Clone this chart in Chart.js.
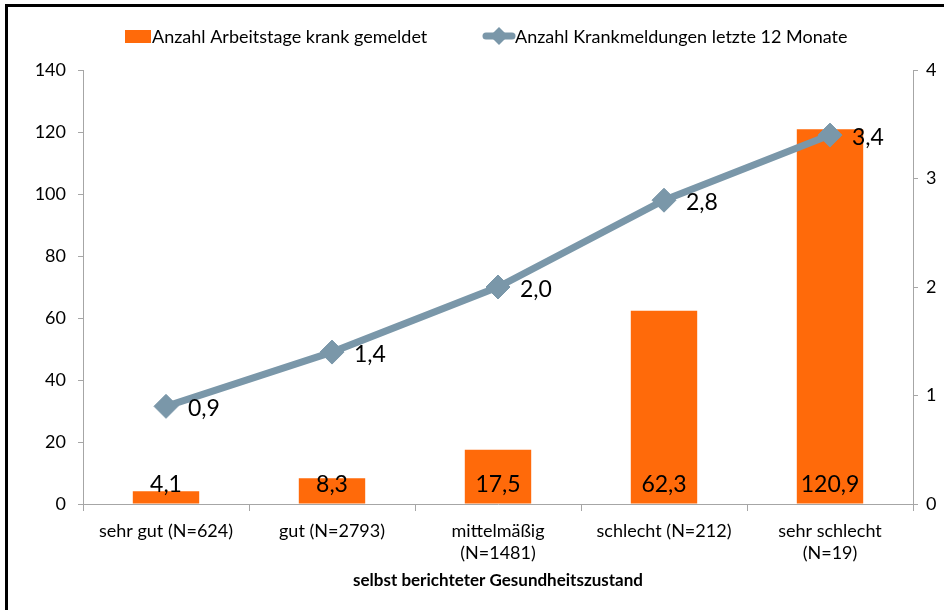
<!DOCTYPE html>
<html lang="de">
<head>
<meta charset="utf-8">
<title>Arbeitsunfähigkeit nach Gesundheitszustand</title>
<script src="https://cdn.jsdelivr.net/npm/chart.js@4.4.1/dist/chart.umd.min.js"></script>
<style>
  html, body { margin: 0; padding: 0; background: #ffffff; overflow: hidden; }
  #wrap { position: relative; width: 944px; height: 610px; }
  #frame {
    position: absolute; left: 5px; top: 4px; width: 960px; height: 640px;
    border-top: 3px solid #000; border-left: 3px solid #000; pointer-events: none;
  }
  canvas { display: block; }
</style>
</head>
<body>
<div id="wrap">
  <canvas id="c" width="944" height="610"></canvas>
  <div id="frame"></div>
</div>
<script>
// Kategorien: selbst berichteter Gesundheitszustand
const categories = [
  ['sehr gut (N=624)'],
  ['gut (N=2793)'],
  ['mittelmäßig', '(N=1481)'],
  ['schlecht (N=212)'],
  ['sehr schlecht', '(N=19)']
];
// Anzahl Arbeitstage krank gemeldet (linke Achse)
const arbeitstage = [4.1, 8.3, 17.5, 62.3, 120.9];
// Anzahl Krankmeldungen letzte 12 Monate (rechte Achse)
const krankmeldungen = [0.9, 1.4, 2.0, 2.8, 3.4];

const seriesNames = ['Anzahl Arbeitstage krank gemeldet', 'Anzahl Krankmeldungen letzte 12 Monate'];
const axisTitle = 'selbst berichteter Gesundheitszustand';
const leftTicks = [0, 20, 40, 60, 80, 100, 120, 140];
const rightTicks = [0, 1, 2, 3, 4];

const FONT = 'Lato, "Open Sans", sans-serif';
const ORANGE = '#ff6a0a';
const STEEL = '#7a97a9';
const AXIS = '#a6a6a6';

const fmt = v => v.toFixed(1).replace('.', ',');

// Legende oben, mittig
const legendPlugin = {
  id: 'topLegend',
  afterDraw(chart) {
    const ctx = chart.ctx;
    ctx.save();
    ctx.font = '18px ' + FONT;
    ctx.textBaseline = 'middle';
    // Balken-Eintrag
    ctx.fillStyle = ORANGE;
    ctx.fillRect(125, 30, 26, 13);
    ctx.fillStyle = '#000';
    ctx.fillText(seriesNames[0], 152, 37);
    // Linien-Eintrag
    ctx.strokeStyle = STEEL;
    ctx.lineWidth = 7;
    ctx.lineCap = 'round';
    ctx.beginPath();
    ctx.moveTo(486, 36);
    ctx.lineTo(512, 36);
    ctx.stroke();
    ctx.fillStyle = STEEL;
    ctx.beginPath();
    ctx.moveTo(499, 27);
    ctx.lineTo(508, 36);
    ctx.lineTo(499, 45);
    ctx.lineTo(490, 36);
    ctx.closePath();
    ctx.fill();
    ctx.fillStyle = '#000';
    ctx.fillText(seriesNames[1], 515, 37);
    ctx.restore();
  }
};

// Wertbeschriftungen
const valueLabels = {
  id: 'valueLabels',
  afterDatasetsDraw(chart) {
    const ctx = chart.ctx;
    ctx.save();
    ctx.font = '23px ' + FONT;
    ctx.fillStyle = '#000';
    ctx.textBaseline = 'alphabetic';
    const base = chart.scales.y.getPixelForValue(0);
    chart.data.datasets.forEach((ds, di) => {
      const meta = chart.getDatasetMeta(di);
      meta.data.forEach((el, i) => {
        if (ds.type === 'bar') {
          ctx.textAlign = 'center';
          ctx.fillText(fmt(ds.data[i]), el.x, base - 12);
        } else {
          ctx.textAlign = 'left';
          ctx.fillText(fmt(ds.data[i]), el.x + 22, el.y + 10);
        }
      });
    });
    ctx.restore();
  }
};

new Chart(document.getElementById('c'), {
  data: {
    labels: categories,
    datasets: [
      {
        type: 'line',
        label: seriesNames[1],
        data: krankmeldungen,
        yAxisID: 'y2',
        borderColor: STEEL,
        backgroundColor: STEEL,
        borderWidth: 7,
        pointStyle: 'rectRot',
        pointRadius: 12,
        pointHoverRadius: 12,
        pointBorderWidth: 1,
        pointBackgroundColor: STEEL,
        pointBorderColor: STEEL,
        tension: 0,
        order: 0
      },
      {
        type: 'bar',
        label: seriesNames[0],
        data: arbeitstage,
        yAxisID: 'y',
        backgroundColor: ORANGE,
        borderWidth: 0,
        barPercentage: 0.4,
        categoryPercentage: 1.0,
        order: 1
      }
    ]
  },
  options: {
    responsive: false,
    animation: false,
    layout: { padding: { top: 70, left: 0, right: 0, bottom: 0 } },
    plugins: {
      legend: { display: false },
      tooltip: { enabled: false }
    },
    scales: {
      x: {
        type: 'category',
        offset: true,
        grid: {
          offset: true,
          drawOnChartArea: false,
          drawTicks: true,
          tickLength: 7,
          color: AXIS
        },
        border: { display: true, color: AXIS, width: 1 },
        ticks: {
          font: { family: FONT, size: 18, lineHeight: 1.22 },
          color: '#000',
          padding: 9,
          maxRotation: 0,
          autoSkip: false
        },
        title: {
          display: true,
          text: axisTitle,
          font: { family: FONT, size: 17, weight: 'bold' },
          color: '#000',
          padding: { top: 4, bottom: 19 }
        },
        afterFit(scale) { scale.height = 106; }
      },
      y: {
        position: 'left',
        min: 0,
        max: 140,
        afterBuildTicks(scale) { scale.ticks = leftTicks.map(v => ({ value: v })); },
        grid: { drawOnChartArea: false, drawTicks: true, tickLength: 5, color: AXIS },
        border: { display: true, color: AXIS, width: 1 },
        ticks: {
          font: { family: FONT, size: 18 },
          color: '#000',
          padding: 12
        },
        afterFit(scale) { scale.width = 83; }
      },
      y2: {
        position: 'right',
        min: 0,
        max: 4,
        afterBuildTicks(scale) { scale.ticks = rightTicks.map(v => ({ value: v })); },
        grid: { drawOnChartArea: false, drawTicks: true, tickLength: 5, color: AXIS },
        border: { display: true, color: AXIS, width: 1 },
        ticks: {
          font: { family: FONT, size: 18 },
          color: '#000',
          padding: 8
        },
        afterFit(scale) { scale.width = 31; }
      }
    }
  },
  plugins: [legendPlugin, valueLabels]
});
</script>
</body>
</html>
